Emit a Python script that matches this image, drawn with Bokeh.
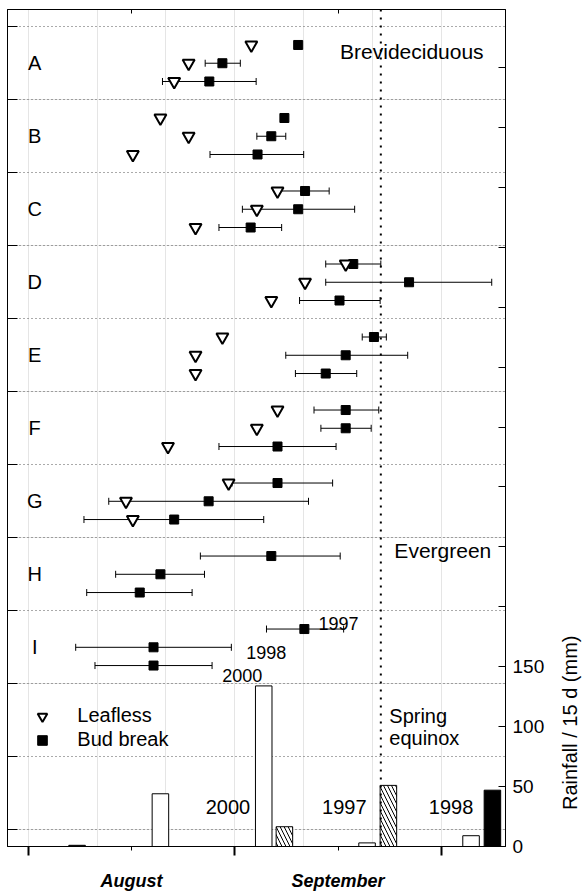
import math
from bokeh.plotting import figure
from bokeh.layouts import row
from bokeh.models import (Range1d, LinearAxis, FixedTicker, ColumnDataSource, Whisker,
                          TeeHead, Span, Legend, LegendItem, Grid, CustomJSTickFormatter,
                          CustomLabelingPolicy)
from bokeh.core.properties import value
from bokeh.embed import file_html
from bokeh.resources import INLINE

FONT = "Liberation Sans"

# ---------------- data (x in days after 1 August) ----------------
groups = ["A", "B", "C", "D", "E", "F", "G", "H", "I"]
years = ["1997", "1998", "2000"]

leafless = [
    [32.4, 23.3, 21.2],   # A
    [19.2, 23.3, 15.2],   # B
    [36.2, 33.2, 24.3],   # C
    [46.1, 40.2, 35.3],   # D
    [28.2, 24.3, 24.3],   # E
    [36.2, 33.2, 20.3],   # F
    [29.1, 14.2, 15.2],   # G
    [None, None, None],   # H
    [None, None, None],   # I
]
budbreak = [
    [39.2, 28.2, 26.3],
    [37.2, 35.3, 33.3],
    [40.2, 39.2, 32.3],
    [47.2, 55.3, 45.2],
    [50.2, 46.1, 43.2],
    [46.1, 46.1, 36.2],
    [36.2, 26.2, 21.2],
    [35.3, 19.2, 16.2],
    [40.1, 18.2, 18.2],
]
budbreak_low = [
    [None, 25.7, 19.5],
    [None, 33.2, 26.4],
    [36.5, 31.1, 27.7],
    [43.2, 43.2, 39.4],
    [48.5, 37.4, 38.8],
    [41.5, 42.5, 27.7],
    [29.6, 11.7, 8.1],
    [25.0, 12.7, 8.5],
    [34.6, 6.9, 9.7],
]
budbreak_high = [
    [None, 30.8, 33.1],
    [None, 37.4, 40.0],
    [43.7, 47.4, 36.8],
    [51.2, 67.3, 51.1],
    [52.0, 55.1, 47.7],
    [50.9, 49.8, 44.7],
    [44.2, 40.7, 34.2],
    [45.3, 25.6, 23.8],
    [45.8, 29.5, 26.7],
]

# rainfall per 15 d (mm), bar centres in days after 1 August
rain_days_2000 = [19.2, 34.2, 49.2, 64.3]
rain_2000 = [44, 134, 3, 9]
rain_days_1997 = [7.2, 22.2, 37.2, 52.3]
rain_1997 = [0, 0, 16.5, 51]
rain_days_1998 = [7.1, 22.2, 37.2, 52.3, 67.4]
rain_1998 = [1, 0, 0, 0, 47]

equinox_day = 51.2
month_ticks = [15, 45]
month_names = ["August", "September"]
month_edges = [0, 30, 60]
rain_ticks = list(range(0, 651, 50))
rain_labelled_max = 150

no_labels = CustomLabelingPolicy(code="return [];")
rain_policy = CustomLabelingPolicy(
    code="const r = []; for (const i of indices) { if (i <= %d) r.push(i); } return r;"
    % (rain_labelled_max // 50))

# ---------------- figure ----------------
p = figure(width=547, height=893, x_range=Range1d(-3.0, 69.3), y_range=Range1d(-0.2285, 11.236),
           output_backend="svg", toolbar_location=None, x_axis_location=None, y_axis_location=None,
           min_border_left=7, min_border_right=41, min_border_top=9, min_border_bottom=41)
p.extra_y_ranges = {"rain": Range1d(0, 698.4)}
p.outline_line_color = "black"
p.outline_line_width = 1
p.background_fill_color = "white"
p.border_fill_color = "white"

left = LinearAxis(ticker=FixedTicker(ticks=list(range(12))), major_label_text_font_size="0px",
                  major_label_policy=no_labels,
                  major_label_standoff=0, major_tick_in=10, major_tick_out=0,
                  axis_line_color="black", major_tick_line_color="black")
p.add_layout(left, "left")
p.add_layout(Grid(dimension=1, ticker=left.ticker, grid_line_color="#555555",
                  grid_line_dash="1 3", grid_line_width=1))

right = LinearAxis(y_range_name="rain", ticker=FixedTicker(ticks=rain_ticks),
                   major_label_policy=rain_policy,
                   major_tick_in=7, major_tick_out=0, major_label_standoff=7,
                   major_label_text_font=FONT, major_label_text_font_size="19px",
                   major_label_text_color="black", axis_line_color="black",
                   major_tick_line_color="black")
p.add_layout(right, "right")

code = "const m = {%s}; return (tick in m) ? m[tick] : '';" % ", ".join(
    "%d: '%s'" % (t, n) for t, n in zip(month_ticks, month_names))
bottom = LinearAxis(ticker=FixedTicker(ticks=month_ticks, minor_ticks=month_edges),
                    formatter=CustomJSTickFormatter(code=code),
                    major_tick_out=4, major_tick_in=0, minor_tick_out=9, minor_tick_in=0,
                    minor_tick_line_width=2, minor_tick_line_color="black",
                    major_label_standoff=15, major_label_text_font=FONT,
                    major_label_text_font_size="18px", major_label_text_font_style="bold italic",
                    major_label_text_color="black", axis_line_color="black")
p.add_layout(bottom, "below")

top = LinearAxis(ticker=FixedTicker(ticks=month_ticks), major_label_text_font_size="0px",
                 major_label_policy=no_labels,
                 major_label_standoff=0, major_tick_in=4, major_tick_out=0, axis_line_color="black")
p.add_layout(top, "above")

# ---------------- phenology rows ----------------
lx, ly, bx, by, wl, wh, wy = [], [], [], [], [], [], []
for g in range(len(groups)):
    for j in range(len(years)):
        y = (len(groups) + 2 - g) - 0.25 * (j + 1)
        if leafless[g][j] is not None:
            lx.append(leafless[g][j]); ly.append(y)
        bx.append(budbreak[g][j]); by.append(y)
        if budbreak_low[g][j] is not None:
            wl.append(budbreak_low[g][j]); wh.append(budbreak_high[g][j]); wy.append(y)

wsrc = ColumnDataSource(dict(y=wy, lo=wl, hi=wh))
p.add_layout(Whisker(source=wsrc, base="y", lower="lo", upper="hi", dimension="width",
                     line_color="black", line_width=1,
                     upper_head=TeeHead(size=7, line_width=1, line_color="black"),
                     lower_head=TeeHead(size=7, line_width=1, line_color="black"),
                     level="underlay"))

sq = p.scatter(bx, by, marker="square", size=9, fill_color="black", line_color="black")
tri = p.scatter(lx, ly, marker="inverted_triangle", size=12, fill_color="white",
                line_color="black", line_width=2)

# group letters
p.text(x=[0.95] * len(groups), y=[len(groups) + 2 - g - 0.5 for g in range(len(groups))], text=groups,
       text_font=value(FONT), text_font_size="20px", text_align="center", text_baseline="middle",
       text_color="black")

p.text(x=[55.7, 60.2], y=[10.66, 3.83], text=["Brevideciduous", "Evergreen"],
       text_font=value(FONT), text_font_size="21px", text_align="center", text_baseline="middle",
       text_color="black")

p.text(x=[42.15, 31.67, 28.17], y=[2.825, 2.435, 2.118], text=years,
       text_font=value(FONT), text_font_size="18px", text_align="left", text_baseline="middle",
       text_color="black")

# ---------------- rainfall ----------------
p.vbar(x=rain_days_2000, width=2.4, top=rain_2000, bottom=0, y_range_name="rain",
       fill_color="white", line_color="black", line_width=1)
p.vbar(x=rain_days_1997, width=2.4, top=rain_1997, bottom=0, y_range_name="rain",
       fill_color="white", line_color="black", line_width=1,
       hatch_pattern="left_diagonal_line", hatch_scale=8, hatch_weight=1, hatch_color="black")
p.vbar(x=rain_days_1998, width=2.4, top=rain_1998, bottom=0, y_range_name="rain",
       fill_color="black", line_color="black", line_width=1)

p.text(x=[29.0, 45.9, 61.4], y=[33.0, 33.0, 33.3], text=["2000", "1997", "1998"],
       y_range_name="rain", text_font=value(FONT), text_font_size="20px",
       text_align="center", text_baseline="middle", text_color="black")

p.text(x=[52.43, 52.43], y=[108.8, 90.6], text=["Spring", "equinox"], y_range_name="rain",
       text_font=value(FONT), text_font_size="20px", text_align="left", text_baseline="middle",
       text_color="black")

p.add_layout(Span(location=equinox_day, dimension="height", line_color="black",
                  line_dash="2 6", line_width=2))

legend = Legend(items=[LegendItem(label="Leafless", renderers=[tri]),
                       LegendItem(label="Bud break", renderers=[sq])],
                location=(23.3, 94.3), glyph_width=24, glyph_height=24, spacing=0,
                label_standoff=23, padding=0, margin=0, border_line_color=None,
                background_fill_alpha=0, label_text_font=FONT, label_text_font_size="20px",
                label_text_color="black", label_height=24)
p.add_layout(legend)

# ---------------- strip holding the rotated rainfall axis title ----------------
side = figure(width=35, height=893, x_range=Range1d(0, 35), y_range=Range1d(0, 893),
              output_backend="svg", toolbar_location=None, x_axis_location=None,
              y_axis_location=None, min_border=0)
side.outline_line_color = None
side.grid.visible = False
side.text(x=[22.5], y=[132], text=["Rainfall / 15 d (mm)"], angle=math.pi / 2,
          text_font=value(FONT), text_font_size="20px", text_align="center",
          text_baseline="middle", text_color="black")

layout = row(p, side, spacing=0)
open("out.html", "w").write(file_html(layout, INLINE))
